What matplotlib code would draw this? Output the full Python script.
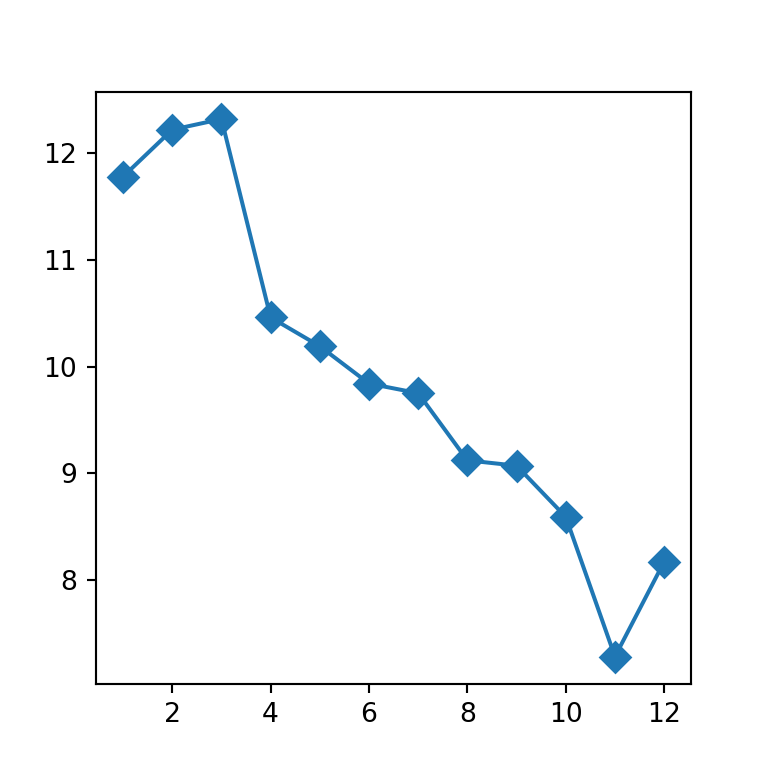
import matplotlib
matplotlib.use("Agg")
import matplotlib.pyplot as plt

x = [1, 2, 3, 4, 5, 6, 7, 8, 9, 10, 11, 12]
y = [11.78, 12.22, 12.32, 10.46, 10.19, 9.84, 9.75, 9.12, 9.07, 8.59, 7.28, 8.17]

fig, ax = plt.subplots(figsize=(4, 4), dpi=192)
ax.plot(x, y, marker="D", markersize=8)
fig.savefig("out.png", dpi=192)
